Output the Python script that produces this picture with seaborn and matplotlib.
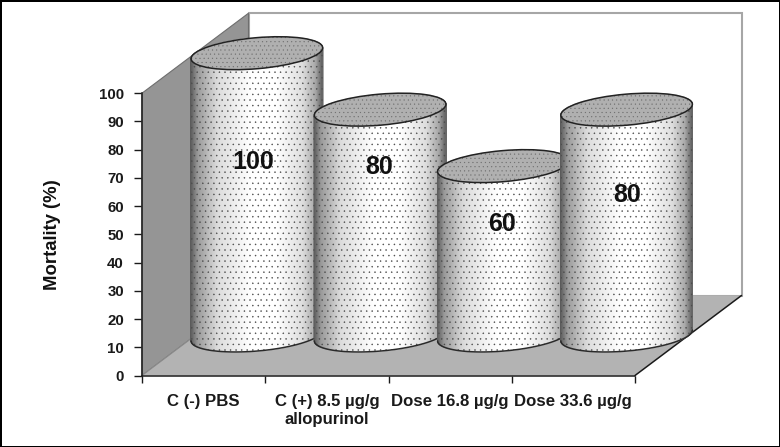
import numpy as np
import matplotlib
matplotlib.use('Agg')
import matplotlib.pyplot as plt
import seaborn as sns
from matplotlib.colors import LinearSegmentedColormap
from matplotlib.patches import Ellipse, PathPatch, Polygon
from matplotlib.path import Path
from matplotlib.transforms import Affine2D, IdentityTransform

categories = ['C (-) PBS', 'C (+) 8.5 µg/g\nallopurinol', 'Dose 16.8 µg/g', 'Dose 33.6 µg/g']
mortality = [100, 80, 60, 80]
value_labels = ['100', '80', '60', '80']
y_ticks = list(range(0, 101, 10))
y_label = 'Mortality (%)'

sns.set_theme(style='white')
plt.rcParams['font.family'] = ['Liberation Sans', 'DejaVu Sans']
plt.rcParams['hatch.linewidth'] = 0.3

W, H = 780, 447
fig = plt.figure(figsize=(W / 100, H / 100), dpi=100)
fig.patch.set_edgecolor('black')
fig.patch.set_linewidth(2)
ax = fig.add_axes([142 / W, 1 - 375.5 / H, 493 / W, 282.3 / H])

# the bars only give the geometry, the cylinders are drawn over them
slots = np.arange(len(categories))
sns.barplot(x=slots, y=mortality, width=131 / 123.25, color='white', native_scale=True, ax=ax)
bars = list(ax.patches)
ax.set_xlim(-0.5, len(categories) - 0.5)
ax.set_ylim(0, 100)

DX, DY = 106.5, 80.0  # depth of the fake 3d box, pixels
A, B, TILT = 66.0, 15.5, np.deg2rad(5)

x0, y0 = ax.transData.transform((-0.5, 0))
x1, y1 = ax.transData.transform((len(categories) - 0.5, 100))
px = IdentityTransform()

# walls and floor
back = Polygon([(x0 + DX, y0 + DY), (x1 + DX, y0 + DY), (x1 + DX, y1 + DY), (x0 + DX, y1 + DY)],
               facecolor='white', edgecolor='#a6a6a6', lw=1.5, transform=px, zorder=1, clip_on=False)
side = Polygon([(x0, y0), (x0 + DX, y0 + DY), (x0 + DX, y1 + DY), (x0, y1)],
               facecolor='#959595', edgecolor='#6e6e6e', lw=0.8, transform=px, zorder=1.2, clip_on=False)
floor = Polygon([(x0, y0), (x1, y0), (x1 + DX, y0 + DY), (x0 + DX, y0 + DY)],
                facecolor='#b3b3b3', edgecolor='none', transform=px, zorder=1.4, clip_on=False)
for p in (back, side, floor):
    ax.add_patch(p)
ax.plot([x1, x1 + DX], [y0, y0 + DY], color='#1a1a1a', lw=1.1, transform=px, zorder=1.6, clip_on=False)
ax.plot([x0, x0 + DX], [y0, y0 + DY], color='#8a8a8a', lw=0.8, transform=px, zorder=1.6, clip_on=False)

shade = LinearSegmentedColormap.from_list('cyl', [
    (0.0, '#5c5c5c'), (0.05, '#9a9a9a'), (0.2, '#dcdcdc'), (0.45, '#ffffff'),
    (0.65, '#ffffff'), (0.85, '#dedede'), (0.95, '#a8a8a8'), (1.0, '#666666')])


def arc(cx, cy, start, stop):
    t = np.linspace(start, stop, 120)
    xs = cx + A * np.cos(t) * np.cos(TILT) - B * np.sin(t) * np.sin(TILT)
    ys = cy + A * np.cos(t) * np.sin(TILT) + B * np.sin(t) * np.cos(TILT)
    return xs, ys


t0 = np.arctan(-(B / A) * np.tan(TILT))
for i, bar in enumerate(bars):
    bar.set_visible(False)
    z = 3 + i
    xc = bar.get_x() + bar.get_width() / 2
    cx, base = ax.transData.transform((xc, 0))
    _, top = ax.transData.transform((xc, bar.get_height()))
    cx, base, top = cx + DX / 2, base + DY / 2, top + DY / 2

    lx, ly = arc(cx, base, t0 + np.pi, t0 + 2 * np.pi)
    ux, uy = arc(cx, top, t0, t0 + np.pi)
    # shaded side of the cylinder, mesh between the lower and the upper arc
    g = (lx - lx.min()) / (lx.max() - lx.min())
    mesh = ax.pcolormesh(np.vstack([lx, ux[::-1]]), np.vstack([ly, uy[::-1]]), np.vstack([g, g]),
                         cmap=shade, vmin=0, vmax=1, shading='gouraud', transform=px, zorder=z + 0.1)
    mesh.set_clip_on(False)

    verts = np.r_[np.c_[lx, ly], np.c_[ux, uy], [[lx[0], ly[0]]]]
    codes = [Path.MOVETO] + [Path.LINETO] * (len(verts) - 2) + [Path.CLOSEPOLY]
    dots = PathPatch(Path(verts, codes), facecolor='none', edgecolor='#4a4a4a', lw=0, hatch='...', transform=px,
                     zorder=z + 0.2, clip_on=False)
    ax.add_patch(dots)
    ax.plot(lx, ly, color='#2a2a2a', lw=1.1, transform=px, zorder=z + 0.3, clip_on=False)
    lid = Ellipse((cx, top), 2 * A, 2 * B, angle=np.rad2deg(TILT), facecolor='#b0b0b0', edgecolor='#6e6e6e',
                  lw=0, hatch='....', transform=px, zorder=z + 0.4, clip_on=False)
    ax.add_patch(lid)
    rim = Ellipse((cx, top), 2 * A, 2 * B, angle=np.rad2deg(TILT), facecolor='none', edgecolor='#222222',
                  lw=1.1, transform=px, zorder=z + 0.5, clip_on=False)
    ax.add_patch(rim)

    # value labels do not sit at mid height in the original
    level = [61.4, 59.6, 39.4, 49.6][i]
    nudge = [-3.5, -1, -1.5, 0.5][i]
    ax.text(xc, level, value_labels[i], ha='center', va='center', fontsize=18, fontweight='bold',
            color='#111111', transform=ax.transData + Affine2D().translate(DX / 2 + nudge, DY / 2),
            zorder=20, clip_on=False)

ax.set_xlim(-0.5, len(categories) - 0.5)
ax.set_ylim(0, 100)
ax.set_yticks(y_ticks)
ax.set_xticks(slots)
ax.set_xticklabels(categories, linespacing=1.3)
ax.set_xticks(np.arange(len(categories) + 1) - 0.5, minor=True)
ax.tick_params(axis='x', which='major', length=0, pad=13, labelsize=12.1, colors='#1a1a1a')
ax.tick_params(axis='x', which='minor', length=5, width=1, color='#1a1a1a', bottom=True)
ax.tick_params(axis='y', length=6, width=1, color='#1a1a1a', left=True, pad=7, labelsize=10.8, labelcolor='#1a1a1a')
for lab in ax.get_xticklabels() + ax.get_yticklabels():
    lab.set_fontweight('bold')
ax.set_ylabel(y_label, fontsize=13.3, fontweight='bold', color='#111111', labelpad=27)
ax.yaxis.label.set_position((0, (375.5 - 235) / 282.3))

for name in ('top', 'right'):
    ax.spines[name].set_visible(False)
for name in ('left', 'bottom'):
    ax.spines[name].set_color('#1a1a1a')
    ax.spines[name].set_linewidth(1.1)
    ax.spines[name].set_zorder(2)
ax.patch.set_visible(False)

fig.savefig('out.png', dpi=100, edgecolor=fig.get_edgecolor())
plt.close(fig)
